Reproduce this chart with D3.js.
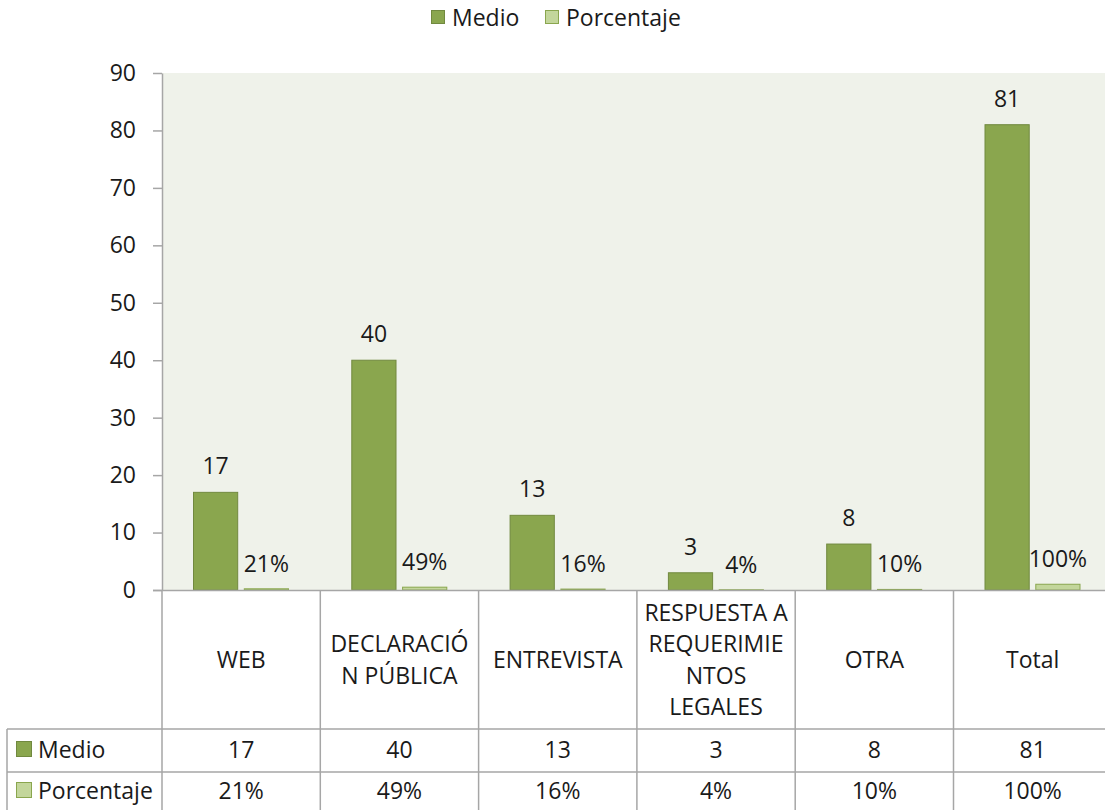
<!DOCTYPE html>
<html lang="es">
<meta charset="utf-8">
<script src="https://d3js.org/d3.v7.min.js"></script>
<style>
  body { margin: 0; background: #fff; }
  text { font-family: "Open Sans", sans-serif; fill: #1a1a1a; }
</style>
<body>
<svg width="1105" height="810"></svg>
<script>
// chart values
var categories = ["WEB", "DECLARACIÓN PÚBLICA", "ENTREVISTA", "RESPUESTA A REQUERIMIENTOS LEGALES", "OTRA", "Total"];
var categoryLines = [["WEB"], ["DECLARACIÓ", "N PÚBLICA"], ["ENTREVISTA"], ["RESPUESTA A", "REQUERIMIE", "NTOS", "LEGALES"], ["OTRA"], ["Total"]];
var medio = [17, 40, 13, 3, 8, 81];
var porcentaje = [0.21, 0.49, 0.16, 0.04, 0.10, 1.00];
var porcentajeLabels = ["21%", "49%", "16%", "4%", "10%", "100%"];
var seriesNames = ["Medio", "Porcentaje"];
var yTicks = [0, 10, 20, 30, 40, 50, 60, 70, 80, 90];

var fills = ["#8aa64e", "#c3d69b"];
var strokes = ["#71893f", "#8aa64e"];
var grid = "#a6a6a6";
var fs = 23;

var svg = d3.select("svg");
var plotLeft = 162, plotTop = 73, plotBottom = 590, plotRight = 162 + 6 * 158.3;
var tableTop = 729, rowH = 43;

var x = d3.scaleBand().domain(categories).range([plotLeft, plotRight]);
var inner = d3.scaleBand().domain(seriesNames).range([31, 127]).paddingInner(0.11);
var y = d3.scaleLinear().domain([0, 90]).range([plotBottom, plotTop]);

// plot background
svg.append("rect")
  .attr("x", plotLeft).attr("y", plotTop)
  .attr("width", plotRight - plotLeft).attr("height", plotBottom - plotTop)
  .attr("fill", "#eff2ea");

// y axis
var yAxis = svg.append("g")
  .attr("transform", "translate(" + plotLeft + ",0)")
  .call(d3.axisLeft(y).tickValues(yTicks).tickSize(9).tickPadding(17).tickSizeOuter(0));
yAxis.select(".domain").attr("stroke", grid).attr("stroke-width", 1.5);
yAxis.selectAll(".tick line").attr("stroke", grid).attr("stroke-width", 1.5);
yAxis.selectAll(".tick text").attr("font-size", fs).attr("font-family", "Open Sans").attr("fill", "#1a1a1a");

// bars
var series = [medio, porcentaje];
series.forEach(function(vals, s) {
  svg.append("g").selectAll("rect")
    .data(vals)
    .join("rect")
    .attr("x", function(d, i) { return x(categories[i]) + inner(seriesNames[s]) + 0.5; })
    .attr("y", function(d) { return y(d); })
    .attr("width", inner.bandwidth() - 1)
    .attr("height", function(d) { return plotBottom - y(d); })
    .attr("fill", fills[s])
    .attr("stroke", strokes[s])
    .attr("stroke-width", 1);
});

// bar labels
svg.append("g").selectAll("text")
  .data(medio)
  .join("text")
  .attr("x", function(d, i) { return x(categories[i]) + inner("Medio") + inner.bandwidth() / 2; })
  .attr("y", function(d) { return y(d) - 18; })
  .attr("text-anchor", "middle")
  .attr("font-size", fs)
  .text(function(d) { return d; });

svg.append("g").selectAll("text")
  .data(porcentaje)
  .join("text")
  .attr("x", function(d, i) { return x(categories[i]) + inner("Porcentaje") + inner.bandwidth() / 2; })
  .attr("y", function(d) { return y(d) - 17; })
  .attr("text-anchor", "middle")
  .attr("font-size", fs)
  .text(function(d, i) { return porcentajeLabels[i]; });

// x axis line
svg.append("line")
  .attr("x1", plotLeft - 9).attr("x2", plotRight)
  .attr("y1", plotBottom + 0.5).attr("y2", plotBottom + 0.5)
  .attr("stroke", grid).attr("stroke-width", 1.5);

// data table grid
var lines = svg.append("g").attr("stroke", grid).attr("stroke-width", 1.5);
x.domain().forEach(function(c) {
  lines.append("line")
    .attr("x1", x(c)).attr("x2", x(c))
    .attr("y1", plotBottom).attr("y2", 810);
});
lines.append("line").attr("x1", 7).attr("x2", 7).attr("y1", tableTop).attr("y2", 810);
[tableTop, tableTop + rowH].forEach(function(yy) {
  lines.append("line").attr("x1", 7).attr("x2", plotRight).attr("y1", yy).attr("y2", yy);
});

// category labels
var lh = 31.5;
svg.append("g").selectAll("text")
  .data(categoryLines)
  .join("text")
  .attr("text-anchor", "middle")
  .attr("font-size", fs)
  .each(function(ls, i) {
    var cx = x(categories[i]) + x.bandwidth() / 2;
    var y0 = 660 - (ls.length - 1) * lh / 2 + 8;
    d3.select(this).selectAll("tspan")
      .data(ls)
      .join("tspan")
      .attr("x", cx)
      .attr("y", function(d, j) { return y0 + j * lh; })
      .text(function(d) { return d; });
  });

// table rows
var rows = [medio.map(String), porcentajeLabels];
rows.forEach(function(vals, r) {
  var cy = tableTop + rowH * r + (r == 0 ? 21 : 19);
  svg.append("rect")
    .attr("x", 16.5).attr("y", cy - 8.5)
    .attr("width", 15).attr("height", 15)
    .attr("fill", fills[r]).attr("stroke", strokes[r]);
  svg.append("text")
    .attr("x", 38).attr("y", cy + 8)
    .attr("font-size", fs)
    .text(seriesNames[r]);
  svg.append("g").selectAll("text")
    .data(vals)
    .join("text")
    .attr("x", function(d, i) { return x(categories[i]) + x.bandwidth() / 2; })
    .attr("y", cy + 8)
    .attr("text-anchor", "middle")
    .attr("font-size", fs)
    .text(function(d) { return d; });
});

// legend
var legend = svg.append("g");
var lx = [431, 545];
seriesNames.forEach(function(n, i) {
  legend.append("rect")
    .attr("x", lx[i] + 0.5).attr("y", 10.5)
    .attr("width", 13).attr("height", 13)
    .attr("fill", fills[i]).attr("stroke", strokes[i]);
  legend.append("text")
    .attr("x", lx[i] + 21).attr("y", 26)
    .attr("font-size", fs)
    .text(n);
});
</script>
</body>
</html>
